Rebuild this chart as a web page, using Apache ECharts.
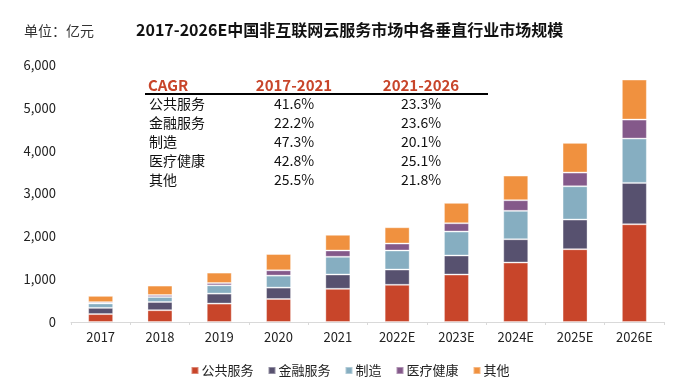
<!DOCTYPE html>
<html>
<head>
<meta charset="utf-8">
<script src="https://cdn.jsdelivr.net/npm/echarts@6/dist/echarts.min.js"></script>
<style>
html,body{margin:0;padding:0;background:#fff;}
#c{width:700px;height:390px;}
</style>
</head>
<body>
<div id="c"></div>
<script>
const categories = ['2017','2018','2019','2020','2021','2022E','2023E','2024E','2025E','2026E'];
const seriesNames = ['公共服务','金融服务','制造','医疗健康','其他'];
const publicService = [185, 275, 430, 537, 775, 868, 1108, 1388, 1699, 2282];
const financeService = [145, 192, 233, 266, 334, 357, 444, 544, 693, 966];
const manufacturing = [103, 116, 193, 280, 413, 444, 560, 663, 777, 1034];
const healthcare = [30, 47, 54, 124, 147, 163, 194, 248, 320, 444];
const others = [147, 220, 243, 380, 367, 380, 476, 576, 693, 933];
const yTicks = [0, 1000, 2000, 3000, 4000, 5000, 6000];
const cagrHeader = ['CAGR', '2017-2021', '2021-2026'];
const cagr2017_2021 = [41.6, 22.2, 47.3, 42.8, 25.5];
const cagr2021_2026 = [23.3, 23.6, 20.1, 25.1, 21.8];

const colors = ['#C8452A', '#57516F', '#86AEC1', '#84598A', '#F0913F'];
const values = [publicService, financeService, manufacturing, healthcare, others];
const FONT = '"Noto Sans CJK SC", "Noto Sans", sans-serif';

const chart = echarts.init(document.getElementById('c'), null, {renderer: 'canvas'});

const graphics = [
  {type: 'text', left: 24, top: 24, style: {text: '单位：亿元', font: '14px ' + FONT, fill: '#333'}},
  {type: 'text', left: 136, top: 22, style: {text: '2017-2026E中国非互联网云服务市场中各垂直行业市场规模', font: 'bold 16px ' + FONT, fill: '#111'}},
  {type: 'text', x: 148, y: 85, style: {text: cagrHeader[0], font: 'bold 15px ' + FONT, fill: '#C8452A', textAlign: 'left', textVerticalAlign: 'middle'}},
  {type: 'text', x: 294, y: 85, style: {text: cagrHeader[1], font: 'bold 15px ' + FONT, fill: '#C8452A', textAlign: 'center', textVerticalAlign: 'middle'}},
  {type: 'text', x: 421, y: 85, style: {text: cagrHeader[2], font: 'bold 15px ' + FONT, fill: '#C8452A', textAlign: 'center', textVerticalAlign: 'middle'}},
  {type: 'line', shape: {x1: 145, y1: 94, x2: 488, y2: 94}, style: {stroke: '#000', lineWidth: 2}}
];
const rowY = [103.5, 122.5, 141.5, 160.5, 179.5];
seriesNames.forEach((n, i) => {
  graphics.push({type: 'text', x: 149, y: rowY[i], style: {text: n, font: '14px ' + FONT, fill: '#111', textAlign: 'left', textVerticalAlign: 'middle'}});
  graphics.push({type: 'text', x: 294, y: rowY[i], style: {text: cagr2017_2021[i].toFixed(1) + '%', font: '14px ' + FONT, fill: '#111', textAlign: 'center', textVerticalAlign: 'middle'}});
  graphics.push({type: 'text', x: 421, y: rowY[i], style: {text: cagr2021_2026[i].toFixed(1) + '%', font: '14px ' + FONT, fill: '#111', textAlign: 'center', textVerticalAlign: 'middle'}});
});

chart.setOption({
  animation: false,
  color: colors,
  textStyle: {fontFamily: FONT},
  grid: {left: 71, right: 36, top: 65, bottom: 68},
  legend: {
    data: seriesNames,
    left: 'center', top: 359,
    icon: 'rect', itemWidth: 7, itemHeight: 7, itemGap: 14,
    textStyle: {fontSize: 13, color: '#222', padding: [0, 0, 0, -2]}
  },
  xAxis: {
    type: 'category', data: categories,
    axisLine: {lineStyle: {color: '#d9d9d9'}},
    axisTick: {show: true, length: 3, lineStyle: {color: '#d9d9d9'}},
    axisLabel: {fontSize: 13, color: '#222', margin: 9}
  },
  yAxis: {
    type: 'value', min: yTicks[0], max: yTicks[yTicks.length - 1], interval: yTicks[1] - yTicks[0],
    splitLine: {show: false}, axisLine: {show: false}, axisTick: {show: false},
    axisLabel: {fontSize: 13, color: '#222', margin: 15, formatter: v => v.toLocaleString('en-US')}
  },
  graphic: graphics,
  series: seriesNames.map((n, i) => ({
    name: n, type: 'bar', stack: 'total', barWidth: 25,
    data: values[i],
    itemStyle: {color: colors[i], borderColor: 'rgba(255,255,255,0.35)', borderWidth: 1}
  }))
});
</script>
</body>
</html>
